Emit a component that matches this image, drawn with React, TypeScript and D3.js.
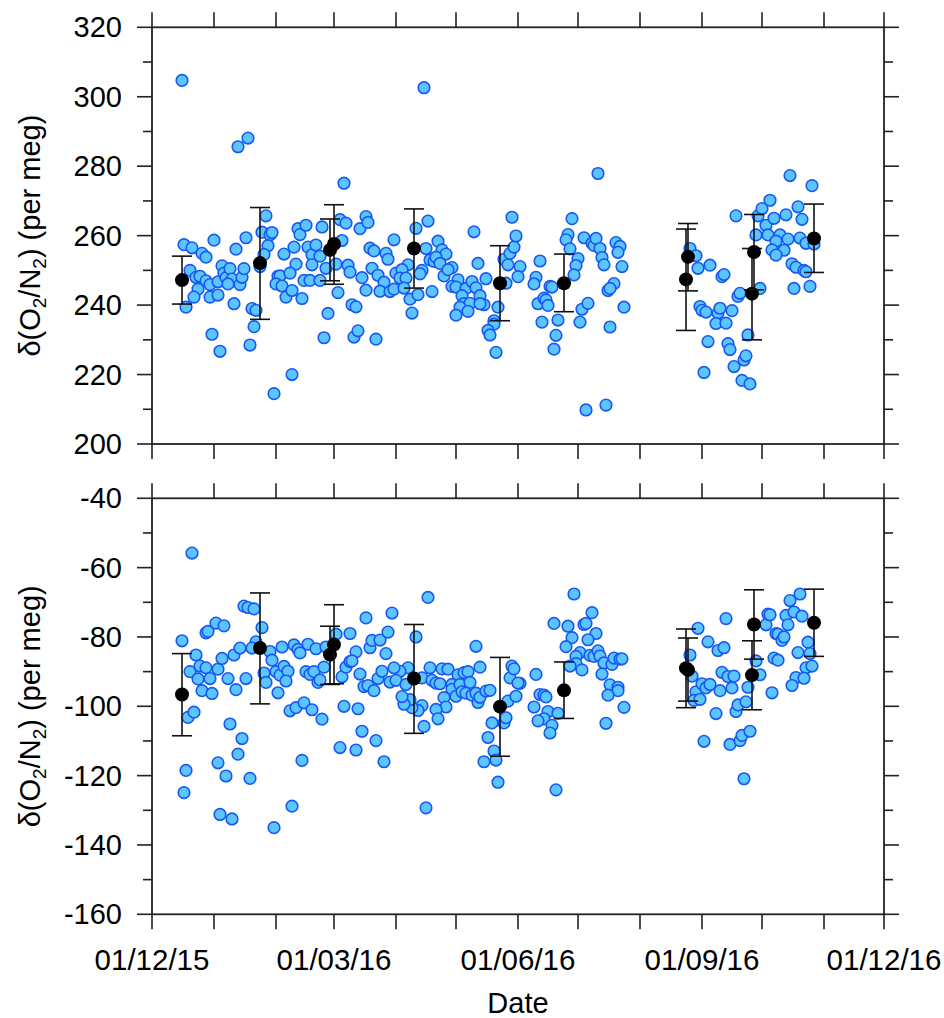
import * as d3 from "d3";

// day offsets from 01/12/2015 and the measured values
const topDays = [
  15, 43, 48, 96, 16, 20, 25, 27, 31, 42, 47, 19, 22, 24, 27, 29, 23, 21, 17, 29, 33, 33, 35, 36, 37, 39, 40, 38, 44, 45,
  46, 41, 30, 34, 49, 51, 50, 52, 54, 57, 55, 59, 60, 58, 56, 61, 70, 66, 71, 72, 73, 74, 77, 78, 80, 80, 82, 84, 85, 63,
  64, 69, 62, 65, 67, 70, 75, 76, 79, 84, 87, 88, 86, 92, 93, 94, 97, 95, 98, 99, 100, 102, 101, 103, 104, 107, 108, 109,
  111, 105, 107, 110, 113, 116, 114, 117, 118, 112, 121, 119, 121, 122,
  136, 223, 217, 227, 132, 138, 137, 143, 145, 147, 139, 141, 142, 144, 150, 128, 125, 124, 127, 135, 134, 146, 148, 126,
  129, 133, 140, 130, 153, 150, 152, 157, 155, 156, 159, 154, 158, 152, 160, 162, 164, 166, 164, 167, 163, 161, 173, 171,
  171, 168, 169, 172, 177, 176, 178, 179, 181, 182, 180, 184, 183, 194, 192, 191, 199, 200, 193, 196, 197, 198, 195, 203,
  202, 201, 210, 208, 207, 209, 213, 212, 211, 216, 220, 221, 222, 224, 225, 226, 215, 218, 214, 228, 231, 229, 232, 234,
  233, 235, 229, 236,
  269, 272, 273, 279, 285, 286, 274, 275, 277, 283, 284, 290, 282, 287, 278, 276, 288, 289, 291, 296, 297, 295, 299, 298,
  293, 294, 304, 292, 303, 305, 309, 307, 302, 308, 311, 317, 319, 330, 323, 325, 314, 318, 324, 327, 331, 312, 310, 316,
  312, 320, 322, 326, 327, 321, 329,
];
const topValues = [
  304.7, 285.6, 288.1, 275.1, 257.4, 256.5, 254.9, 253.8, 258.7, 256.1, 259.4, 250.0, 248.0, 248.3, 247.0, 245.9, 244.6,
  242.3, 239.4, 242.3, 242.9, 246.7, 251.3, 249.2, 247.9, 250.5, 247.5, 246.1, 245.9, 248.0, 250.5, 240.4, 231.6, 226.7,
  228.5, 233.8, 239.0, 238.5, 251.1, 265.7, 261.0, 260.2, 260.9, 257.1, 254.6, 214.5, 220.0, 254.7, 256.7, 251.8, 262.0,
  260.3, 263.0, 256.7, 254.5, 251.6, 257.3, 254.1, 262.5, 248.3, 248.4, 249.2, 246.1, 245.5, 242.3, 244.2, 241.9, 247.1,
  247.1, 247.1, 250.6, 237.6, 230.6, 251.8, 243.6, 264.6, 263.6, 258.6, 251.5, 249.5, 240.1, 239.5, 230.8, 232.6, 262.0,
  265.5, 263.8, 256.4, 255.6, 247.9, 244.3, 250.6, 248.6, 246.6, 244.0, 254.9, 253.2, 230.2, 258.8, 243.9, 244.6, 249.2,
  302.6, 277.9, 209.8, 211.2, 262.1, 264.2, 256.3, 258.4, 255.9, 254.7, 253.0, 252.6, 253.8, 252.0, 250.8, 251.6, 250.2,
  247.8, 247.8, 250.0, 249.0, 248.4, 250.2, 244.9, 241.7, 243.0, 243.9, 237.7, 247.3, 245.4, 245.2, 244.8, 242.7, 240.4,
  240.5, 239.4, 238.2, 237.1, 246.8, 245.0, 242.7, 240.1, 240.4, 247.6, 252.0, 261.1, 239.4, 235.5, 234.5, 232.7, 231.4,
  226.4, 246.3, 253.2, 251.6, 254.9, 256.7, 259.9, 265.3, 251.1, 248.2, 252.7, 248.0, 246.1, 245.4, 245.2, 240.4, 242.0,
  241.5, 239.9, 235.1, 235.7, 231.3, 227.3, 264.9, 260.3, 258.8, 256.2, 253.4, 251.4, 248.7, 259.4, 257.8, 257.2, 259.2,
  256.3, 253.7, 251.6, 238.8, 240.5, 235.1, 244.2, 246.2, 244.8, 258.0, 256.9, 255.2, 251.1, 233.7, 239.4,
  256.3, 254.2, 250.6, 251.5, 248.2, 248.8, 239.6, 238.5, 238.0, 237.7, 239.1, 238.4, 234.7, 234.8, 229.5, 220.6, 228.9,
  227.2, 222.3, 224.2, 225.4, 218.3, 217.3, 231.4, 242.5, 243.4, 244.8, 265.7, 265.7, 267.8, 270.2, 263.0, 260.2, 260.2,
  265.0, 266.0, 277.3, 274.4, 268.3, 264.7, 260.2, 259.0, 259.3, 257.8, 257.6, 258.4, 255.9, 255.8, 254.4, 251.9, 250.9,
  250.0, 249.6, 244.8, 245.4,
];

const bottomDays = [
  20, 15, 22, 19, 23, 24, 27, 29, 25, 30, 33, 35, 27, 28, 32, 36, 38, 42, 41, 44, 47, 46, 48, 51, 55, 52, 50, 59, 60, 56,
  57, 18, 21, 39, 45, 43, 33, 37, 49, 17, 16, 34, 40, 61, 70, 75, 63, 62, 64, 66, 68, 67, 65, 71, 73, 74, 78, 82, 77, 79,
  81, 83, 84, 86, 87, 69, 72, 76, 80, 85, 92, 95, 97, 99, 99, 102, 100, 96, 103, 94, 102, 105, 112, 116, 107, 104, 106,
  108, 111, 109, 110, 114, 118, 117, 120, 113, 115, 119,
  138, 132, 137, 136, 135, 133, 130, 129, 126, 125, 128, 124, 121, 122, 127, 135, 139, 140, 142, 144, 145, 148, 150, 150,
  146, 147, 142, 143, 152, 153, 154, 156, 158, 159, 155, 157, 160, 162, 162, 163, 164, 164, 167, 169, 168, 166, 171, 172,
  173, 170, 176, 177, 178, 182, 179, 180, 181, 184, 183, 192, 191, 194, 196, 197, 198, 196, 193, 200, 199, 203, 202, 201,
  208, 210, 207, 211, 216, 217, 220, 222, 218, 214, 212, 212, 209, 215, 219, 221, 223, 224, 226, 225, 230, 231, 234, 235,
  229, 233, 233, 228, 236, 227,
  273, 269, 270, 272, 271, 274, 275, 277, 279, 278, 283, 286, 287, 285, 288, 291, 290, 284, 282, 276, 289, 294, 295, 299,
  296, 292, 293, 297, 298, 302, 304, 307, 308, 309, 310, 311, 313, 312, 313, 315, 316, 317, 318, 319, 321, 324, 325, 323,
  328, 329, 327, 330, 322, 320, 326,
];
const bottomValues = [
  -55.8, -81.1, -85.2, -90.0, -92.1, -88.4, -88.9, -92.0, -95.5, -96.3, -89.3, -86.2, -78.8, -78.4, -76.0, -76.8, -92.0,
  -95.2, -85.2, -83.2, -92.0, -71.1, -71.5, -71.9, -77.3, -81.4, -83.2, -84.2, -86.7, -90.4, -93.1, -103.2, -101.7,
  -105.1, -109.3, -113.8, -116.3, -120.1, -120.8, -118.5, -124.9, -131.2, -132.5, -135.0, -128.8, -115.6, -96.1, -90.0,
  -91.0, -88.5, -89.9, -92.7, -82.9, -82.3, -83.6, -84.6, -82.1, -83.4, -90.0, -90.8, -90.0, -93.1, -92.4, -88.7, -82.9,
  -101.3, -100.4, -99.0, -101.0, -103.7, -79.2, -91.5, -88.7, -79.0, -87.1, -84.3, -86.9, -100.0, -100.7, -111.9,
  -112.6, -107.2, -109.9, -116.0, -74.5, -90.7, -94.3, -94.0, -95.5, -83.1, -81.0, -80.9, -78.6, -84.8, -73.1, -92.0,
  -89.9, -93.0,
  -68.6, -80.0, -129.3, -105.8, -99.8, -101.2, -100.4, -98.1, -99.4, -97.2, -88.9, -89.9, -88.9, -92.5, -93.7, -91.8,
  -88.9, -92.5, -93.3, -93.5, -89.2, -89.3, -93.7, -95.1, -97.5, -100.2, -100.9, -103.6, -97.1, -90.9, -93.7, -90.3,
  -90.0, -93.1, -95.8, -96.2, -96.8, -82.7, -96.2, -98.9, -97.4, -88.7, -95.6, -95.4, -109.0, -116.0, -112.9, -115.5,
  -121.9, -104.8, -104.8, -103.3, -98.5, -97.1, -91.8, -88.4, -89.2, -93.4, -93.3, -90.8, -100.2, -96.6, -96.8, -97.3,
  -101.5, -103.6, -104.2, -105.5, -107.7, -102.0, -124.1, -76.1, -76.9, -80.2, -82.8, -67.6, -76.4, -76.1, -73.0, -79.0,
  -80.8, -84.5, -85.6, -87.7, -88.4, -89.5, -85.3, -85.6, -84.0, -85.5, -87.5, -90.7, -87.9, -86.1, -86.4, -86.3, -93.8,
  -94.5, -95.5, -96.8, -100.3, -104.9,
  -77.5, -85.2, -91.3, -95.8, -98.3, -98.0, -93.5, -94.7, -93.7, -81.4, -83.9, -83.1, -74.7, -90.2, -91.4, -91.3, -94.7,
  -95.5, -102.1, -110.1, -111.0, -109.9, -108.4, -107.2, -120.9, -101.5, -99.6, -98.7, -94.5, -86.9, -90.9, -76.5, -73.4,
  -73.6, -96.1, -86.1, -86.7, -79.0, -79.2, -81.0, -80.0, -73.8, -76.5, -69.5, -72.8, -67.6, -74.0, -84.5, -81.5, -84.8,
  -88.9, -88.4, -91.7, -94.0, -91.9,
];

// means with their error ranges
const meanDays = [15, 54, 89, 91, 131, 174, 206, 267, 268, 300, 301, 331];
const topMeans = [247.2, 252.1, 255.9, 257.6, 256.3, 246.3, 246.3, 247.4, 253.9, 243.3, 255.3, 259.2];
const topLow = [240.3, 235.9, 247.0, 246.0, 244.9, 235.5, 238.1, 232.7, 244.1, 230.0, 244.4, 249.4];
const topHigh = [254.1, 268.1, 264.8, 268.9, 267.7, 257.1, 254.7, 261.9, 263.5, 256.3, 266.1, 269.1];
const bottomMeans = [-96.6, -83.2, -85.1, -82.2, -92.0, -100.1, -95.4, -89.0, -89.5, -91.0, -76.4, -75.9];
const bottomLow = [-108.5, -99.3, -93.7, -93.5, -107.8, -114.4, -103.5, -100.4, -98.5, -101.0, -86.4, -85.6];
const bottomHigh = [-84.8, -67.3, -76.9, -70.7, -76.4, -85.9, -87.2, -77.7, -80.3, -81.1, -66.4, -66.2];

const W = 944;
const H = 1018;
const LEFT = 152;
const RIGHT = 884;
const FONT = "'Liberation Sans', Arial, sans-serif";
const AXIS = "#222";

const START = new Date(Date.UTC(2015, 11, 1));
const END = new Date(Date.UTC(2016, 11, 1));
const toDate = (d: number) => d3.utcDay.offset(START, d);

const x = d3.scaleUtc().domain([START, END]).range([LEFT, RIGHT]);
const months = d3.utcMonth.range(START, d3.utcDay.offset(END, 1));
const labelMonths = months.filter((_, i) => i % 3 === 0);
const fmt = d3.utcFormat("%d/%m/%y");

type PanelProps = {
  top: number;
  bottom: number;
  domain: [number, number];
  days: number[];
  values: number[];
  means: number[];
  low: number[];
  high: number[];
  showDates: boolean;
};

const Panel = ({ top, bottom, domain, days, values, means, low, high, showDates }: PanelProps) => {
  const y = d3.scaleLinear().domain(domain).range([bottom, top]);
  const ticks = d3.range(domain[0], domain[1] + 1, 10);
  const cy = (top + bottom) / 2;

  return (
    <g>
      {/* blue samples */}
      {days.map((d, i) => (
        <circle
          key={i}
          cx={x(toDate(d))}
          cy={y(values[i])}
          r={5.8}
          fill="#5cc4ff"
          stroke="#1658f2"
          strokeWidth={1.6}
        />
      ))}

      {/* error bars + means */}
      {meanDays.map((d, i) => {
        const cx = x(toDate(d));
        return (
          <g key={i} stroke="#111" strokeWidth={1.6}>
            <line x1={cx} x2={cx} y1={y(low[i])} y2={y(high[i])} />
            <line x1={cx - 10} x2={cx + 10} y1={y(low[i])} y2={y(low[i])} />
            <line x1={cx - 10} x2={cx + 10} y1={y(high[i])} y2={y(high[i])} />
            <circle cx={cx} cy={y(means[i])} r={7} fill="#000" stroke="none" />
          </g>
        );
      })}

      {/* frame */}
      <rect x={LEFT} y={top} width={RIGHT - LEFT} height={bottom - top} fill="none" stroke={AXIS} strokeWidth={1.8} />

      {/* y ticks both sides */}
      {ticks.map((t) => {
        const major = (t - domain[0]) % 20 === 0;
        const len = major ? 15 : 9;
        return (
          <g key={t} stroke={AXIS} strokeWidth={1.6}>
            <line x1={LEFT - len} x2={LEFT} y1={y(t)} y2={y(t)} />
            <line x1={RIGHT} x2={RIGHT + len} y1={y(t)} y2={y(t)} />
          </g>
        );
      })}
      {ticks
        .filter((t) => (t - domain[0]) % 20 === 0)
        .map((t) => (
          <text
            key={t}
            x={LEFT - 30}
            y={y(t)}
            dy="0.35em"
            textAnchor="end"
            fontFamily={FONT}
            fontSize={29}
            fill="#000"
          >
            {t}
          </text>
        ))}

      {/* month ticks top and bottom */}
      {months.map((m, i) => (
        <g key={i} stroke={AXIS} strokeWidth={1.6}>
          <line x1={x(m)} x2={x(m)} y1={top - 15} y2={top} />
          <line x1={x(m)} x2={x(m)} y1={bottom} y2={bottom + 15} />
        </g>
      ))}
      {showDates &&
        labelMonths.map((m, i) => (
          <text
            key={i}
            x={x(m)}
            y={bottom + 56}
            textAnchor="middle"
            fontFamily={FONT}
            fontSize={29.5}
            fill="#000"
          >
            {fmt(m)}
          </text>
        ))}

      {/* y axis title */}
      <text
        transform={`translate(40,${cy}) rotate(-90)`}
        textAnchor="middle"
        fontFamily={FONT}
        fontSize={29}
        fill="#000"
      >
        δ(O
        <tspan fontSize={19} dy={6}>2</tspan>
        <tspan dy={-6}>/N</tspan>
        <tspan fontSize={19} dy={6}>2</tspan>
        <tspan dy={-6}>) (per meg)</tspan>
      </text>
    </g>
  );
};

export default function App() {
  return (
    <svg width={W} height={H} style={{ position: "absolute", left: 0, top: 0, background: "#fff" }}>
      <Panel
        top={27.3}
        bottom={444}
        domain={[200, 320]}
        days={topDays}
        values={topValues}
        means={topMeans}
        low={topLow}
        high={topHigh}
        showDates={false}
      />
      <Panel
        top={498.3}
        bottom={914.3}
        domain={[-160, -40]}
        days={bottomDays}
        values={bottomValues}
        means={bottomMeans}
        low={bottomLow}
        high={bottomHigh}
        showDates={true}
      />
      <text x={(LEFT + RIGHT) / 2} y={1013} textAnchor="middle" fontFamily={FONT} fontSize={29} fill="#000">
        Date
      </text>
    </svg>
  );
}
